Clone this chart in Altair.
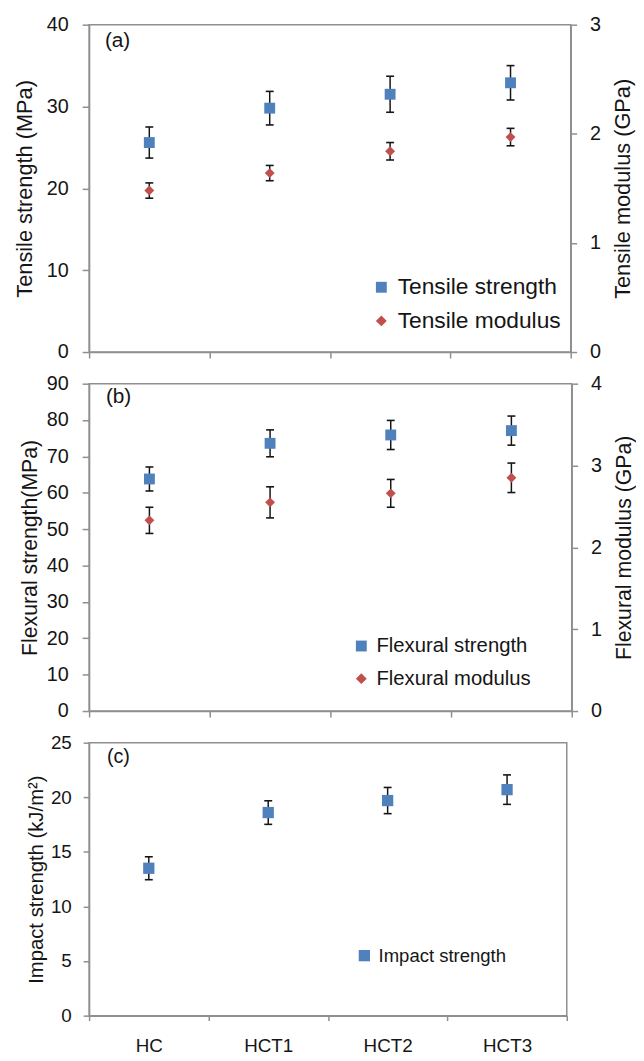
import altair as alt
import pandas as pd

# ---------------- data ----------------
cats = ["HC", "HCT1", "HCT2", "HCT3"]

tensile_strength = [25.6, 29.8, 31.5, 32.9]
tensile_strength_err = [1.9, 2.05, 2.2, 2.1]
tensile_modulus = [1.48, 1.64, 1.84, 1.97]
tensile_modulus_err = [0.07, 0.07, 0.08, 0.08]

flexural_strength = [63.8, 73.6, 75.9, 77.1]
flexural_strength_err = [3.3, 3.7, 4.0, 4.0]
flexural_modulus = [2.33, 2.55, 2.66, 2.85]
flexural_modulus_err = [0.16, 0.19, 0.17, 0.18]

impact_strength = [13.5, 18.6, 19.7, 20.7]
impact_strength_err = [1.05, 1.08, 1.2, 1.35]

panel_labels = ["(a)", "(b)", "(c)"]

# ---------------- style ----------------
BLUE = "#4F81BD"
RED = "#C0504D"
FONT = "Liberation Sans"
GRAY = "#8f8f8f"
INK = "#151515"


def frame(values, errs, name):
    return pd.DataFrame({"cat": cats, "value": values, "err": errs, "series": name})


def x_enc(show_labels, label_size=19):
    if show_labels:
        ax = alt.Axis(title=None, tickBand="extent", tickSize=5, labelPadding=16,
                      labelFontSize=label_size, labelAngle=0, domainColor=GRAY,
                      tickColor=GRAY)
    else:
        ax = alt.Axis(title=None, tickBand="extent", tickSize=6, labels=False,
                      domainColor=GRAY, tickColor=GRAY)
    return alt.X("cat:N", sort=cats,
                 scale=alt.Scale(type="band", domain=cats, paddingInner=0, paddingOuter=0),
                 axis=ax)


def series_group(df, show_x_labels, size, domain, yaxis,
                 legend_domain, legend_range, legend_shapes, legend):
    base = alt.Chart(df).transform_calculate(
        lo="datum.value - datum.err", hi="datum.value + datum.err")
    yscale = alt.Scale(domain=domain, nice=False, zero=True)
    X = x_enc(show_x_labels)
    rule = base.mark_rule(color=INK, strokeWidth=1.5).encode(
        x=X, y=alt.Y("lo:Q", scale=yscale, axis=yaxis), y2="hi:Q")
    cap_lo = base.mark_tick(color=INK, size=8, thickness=1.6, opacity=1).encode(
        x=X, y=alt.Y("lo:Q", scale=yscale, axis=yaxis))
    cap_hi = base.mark_tick(color=INK, size=8, thickness=1.6, opacity=1).encode(
        x=X, y=alt.Y("hi:Q", scale=yscale, axis=yaxis))
    pts = base.mark_point(filled=True, size=size, opacity=1, strokeWidth=0).encode(
        x=X,
        y=alt.Y("value:Q", scale=yscale, axis=yaxis),
        color=alt.Color("series:N", scale=alt.Scale(domain=legend_domain, range=legend_range),
                        legend=legend),
        shape=alt.Shape("series:N", scale=alt.Scale(domain=legend_domain, range=legend_shapes),
                        legend=legend),
    )
    return alt.layer(rule, cap_lo, cap_hi, pts)


def left_axis(title, values, label_size, title_size, title_padding, tick_size=7, label_padding=14):
    return alt.Axis(orient="left", values=values, title=title, titleFontSize=title_size,
                    labelFontSize=label_size, tickSize=tick_size, labelPadding=label_padding,
                    titlePadding=title_padding, titleFontWeight="normal",
                    domainColor=GRAY, tickColor=GRAY, grid=False)


def right_axis(title, values, label_size, title_size, title_padding):
    return alt.Axis(orient="right", values=values, title=title, titleFontSize=title_size,
                    labelFontSize=label_size, tickSize=6, labelPadding=13,
                    titlePadding=title_padding, titleAngle=270, titleBaseline="top",
                    titleFontWeight="normal", domainColor=GRAY, tickColor=GRAY, grid=False)


def label_layer(text, size, dx, dy):
    return alt.Chart(pd.DataFrame({"label": [text]})).mark_text(
        align="left", baseline="middle", fontSize=size, font=FONT, color=INK
    ).encode(x=alt.value(dx), y=alt.value(dy), text="label:N")


def make_legend(x, y, size, row_pad, symbol_size=121):
    return alt.Legend(orient="none", legendX=x, legendY=y, title=None, labelFontSize=size,
                      labelFont=FONT, labelColor=INK, symbolSize=symbol_size, rowPadding=row_pad,
                      labelOffset=5, padding=0, symbolOpacity=1, symbolStrokeWidth=0,
                      labelLimit=400)


# ---------------- panel (a) ----------------
ts_name, tm_name = "Tensile strength", "Tensile modulus"
leg_a = make_legend(284, 254, 23, 10)
a_left = series_group(
    frame(tensile_strength, tensile_strength_err, ts_name), False, 121, [0, 40],
    left_axis("Tensile strength (MPa)", [0, 10, 20, 30, 40], 20, 22, 10),
    [ts_name, tm_name], [BLUE, RED], ["square", "diamond"], leg_a)
a_right = series_group(
    frame(tensile_modulus, tensile_modulus_err, tm_name), False, 100, [0, 3],
    right_axis("Tensile modulus (GPa)", [0, 1, 2, 3], 20, 22, 12),
    [ts_name, tm_name], [BLUE, RED], ["square", "diamond"], leg_a)
panel_a = alt.layer(a_left, a_right, label_layer(panel_labels[0], 21, 16, 17)).resolve_scale(
    y="independent").properties(width=487, height=331)

# ---------------- panel (b) ----------------
fs_name, fm_name = "Flexural strength", "Flexural modulus"
leg_b = make_legend(265, 255, 20.5, 12)
b_left = series_group(
    frame(flexural_strength, flexural_strength_err, fs_name), False, 121, [0, 90],
    left_axis("Flexural strength(MPa)", list(range(0, 91, 10)), 20, 21.5, 5),
    [fs_name, fm_name], [BLUE, RED], ["square", "diamond"], leg_b)
b_right = series_group(
    frame(flexural_modulus, flexural_modulus_err, fm_name), False, 100, [0, 4],
    right_axis("Flexural modulus (GPa)", [0, 1, 2, 3, 4], 20, 21.5, 12),
    [fs_name, fm_name], [BLUE, RED], ["square", "diamond"], leg_b)
panel_b = alt.layer(b_left, b_right, label_layer(panel_labels[1], 21, 17, 14)).resolve_scale(
    y="independent").properties(width=488, height=331)

# ---------------- panel (c) ----------------
is_name = "Impact strength"
leg_c = make_legend(269, 206, 18.7, 10, 130)
c_pts = series_group(
    frame(impact_strength, impact_strength_err, is_name), True, 130, [0, 25],
    left_axis("Impact strength (kJ/m²)", [0, 5, 10, 15, 20, 25], 19, 20.5, 4,
              tick_size=6, label_padding=12),
    [is_name], [BLUE], ["square"], leg_c)
panel_c = alt.layer(c_pts, label_layer(panel_labels[2], 20, 18, 15)).properties(
    width=483, height=276)

chart = alt.vconcat(panel_a, panel_b, panel_c, spacing=32, bounds="flush").resolve_scale(
    color="independent", shape="independent").configure(
    font=FONT, padding={"left": 5, "top": 0, "right": 0, "bottom": 0}
).configure_view(stroke=GRAY, strokeWidth=1.5).configure_axis(
    domainWidth=1.5, tickWidth=1.5, labelColor=INK, titleColor=INK,
    labelFont=FONT, titleFont=FONT)

chart.save("out.html", embed_options={"renderer": "svg", "actions": False})
